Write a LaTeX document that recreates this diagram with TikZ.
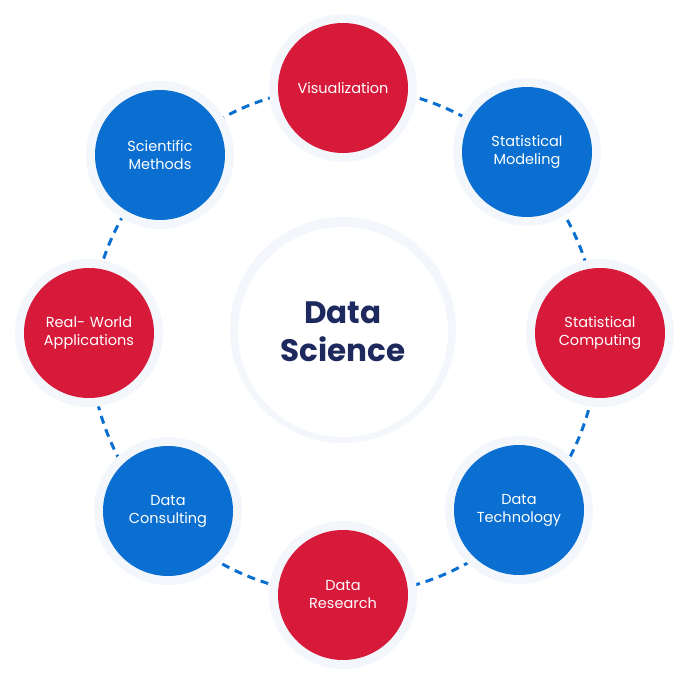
\documentclass[tikz,border=0pt]{standalone}
\usepackage{fontspec}
\setmainfont{Poppins}
\definecolor{dsred}{HTML}{D7193A}
\definecolor{dsblue}{HTML}{0A6FD0}
\definecolor{dsnavy}{HTML}{1E2A5E}
\definecolor{dshalo}{HTML}{F3F7FC}
\tikzset{
  topic/.style={circle,minimum size=130pt,text width=110pt,align=center,text=white,font=\fontsize{14.5}{18}\selectfont},
  redtopic/.style={topic,fill=dsred},
  bluetopic/.style={topic,fill=dsblue},
  halo/.style={fill=dshalo},
  ring/.style={dsblue,line width=3pt,dash pattern=on 8pt off 6pt}
}
\begin{document}
\begin{tikzpicture}[x=1pt,y=-1pt]
\useasboundingbox (0,0) rectangle (688,684);

\coordinate (ctr) at (344,341);
\draw[ring] (ctr) circle (254);

\foreach \p in {(343,88),(527,152),(600,333),(519,510),(343,595),(168,511),(89,333),(160,155)}
  \fill[halo] \p circle (74);
\fill[halo] (343,330) circle (113);

\node[circle,fill=white,minimum size=210pt,text=dsnavy,font=\bfseries\fontsize{31}{38}\selectfont,align=center] (ds) at (343,332) {Data\\Science};

\node[redtopic]  (vis)  at (343,88)  {Visualization};
\node[bluetopic] (smod) at (527,152) {Statistical\\Modeling};
\node[redtopic]  (scomp) at (600,333) {Statistical\\Computing};
\node[bluetopic] (dtech) at (519,510) {Data\\Technology};
\node[redtopic]  (dres) at (343,595) {Data\\Research};
\node[bluetopic] (dcons) at (168,511) {Data\\Consulting};
\node[redtopic]  (rwa)  at (89,333)  {Real- World\\Applications};
\node[bluetopic] (smeth) at (160,155) {Scientific\\Methods};

\end{tikzpicture}
\end{document}
